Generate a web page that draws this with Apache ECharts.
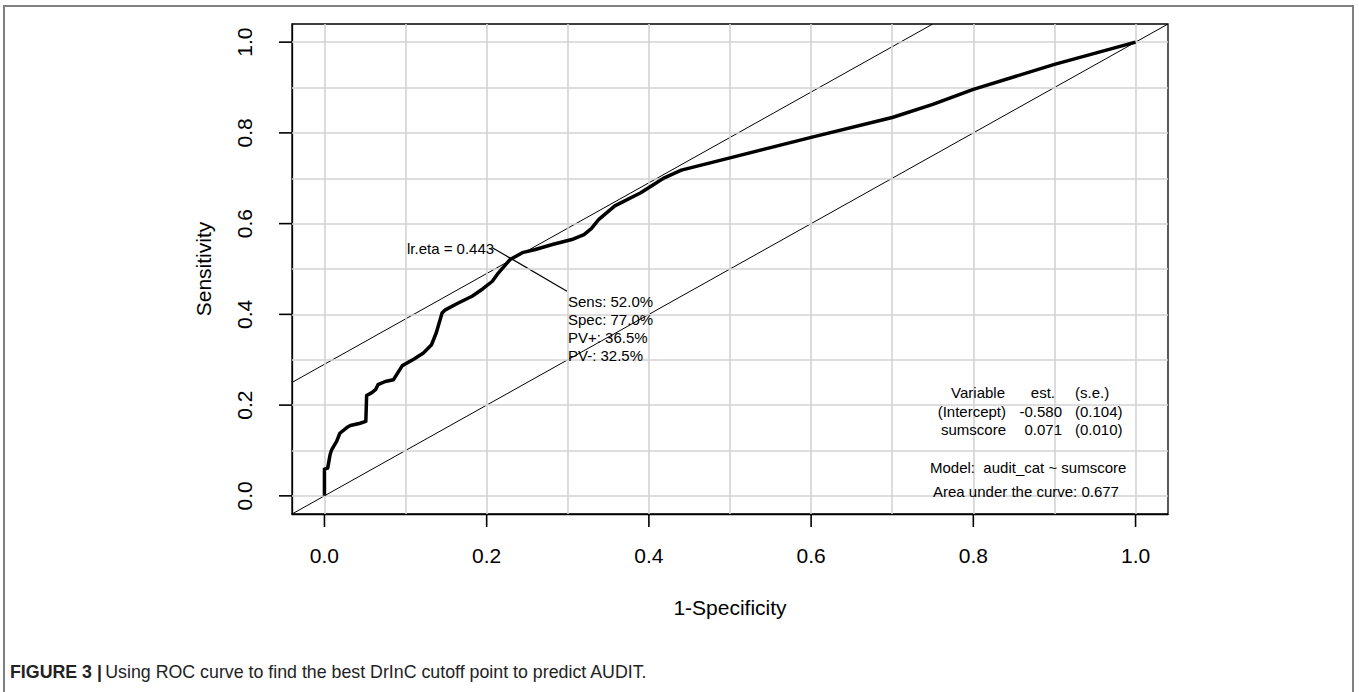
<!DOCTYPE html>
<html>
<head>
<meta charset="utf-8">
<script src="https://cdn.jsdelivr.net/npm/echarts@6.0.0/dist/echarts.min.js"></script>
<style>
  html, body { margin: 0; padding: 0; background: #fff; }
  #chart { width: 1359px; height: 692px; }
</style>
</head>
<body>
<div id="chart"></div>
<script>
// ROC curve points (1-Specificity, Sensitivity)
var rocFpr = [0, 0.000, 0.004, 0.007, 0.009, 0.015, 0.019, 0.028, 0.032, 0.044, 0.051, 0.052, 0.058, 0.063, 0.066,
  0.075, 0.085, 0.090, 0.096, 0.110, 0.122, 0.132, 0.138, 0.145, 0.149, 0.165, 0.182, 0.195, 0.207, 0.213, 0.229,
  0.244, 0.260, 0.281, 0.305, 0.320, 0.329, 0.338, 0.358, 0.390, 0.419, 0.440, 0.500, 0.600, 0.700, 0.750, 0.800,
  0.900, 1.000];
var rocSens = [0, 0.059, 0.061, 0.091, 0.102, 0.120, 0.138, 0.151, 0.155, 0.160, 0.164, 0.221, 0.227, 0.234, 0.245,
  0.252, 0.256, 0.270, 0.287, 0.301, 0.315, 0.333, 0.360, 0.403, 0.410, 0.425, 0.440, 0.456, 0.473, 0.488, 0.521,
  0.536, 0.543, 0.554, 0.565, 0.576, 0.589, 0.609, 0.639, 0.668, 0.701, 0.718, 0.745, 0.790, 0.834, 0.863, 0.896,
  0.951, 1.000];

// reference lines (end points on the plot edges)
var diagX = [-0.04, 1.04];
var diagY = [-0.04, 1.04];
var youdenX = [-0.04, 0.75];
var youdenY = [0.25, 1.04];
// pointer from the cutoff label to the stats text
var pointerX = [0.207, 0.299];
var pointerY = [0.547, 0.451];

var axisMin = -0.04;
var axisMax = 1.04;
var tickValues = [0, 0.2, 0.4, 0.6, 0.8, 1.0];
var gridValues = [0, 0.1, 0.2, 0.3, 0.4, 0.5, 0.6, 0.7, 0.8, 0.9, 1.0];

var cutoffLabel = 'lr.eta = 0.443';
var statsLines = ['Sens: 52.0%', 'Spec: 77.0%', 'PV+: 36.5%', 'PV-: 32.5%'];
var tableHead = ['Variable', 'est.', '(s.e.)'];
var tableRows = [
  ['(Intercept)', '-0.580', '(0.104)'],
  ['sumscore', '0.071', '(0.010)']
];
var modelText = 'Model:  audit_cat ~ sumscore';
var aucText = 'Area under the curve: 0.677';

function pairs(xs, ys) {
  var out = [];
  for (var i = 0; i < xs.length; i++) out.push([xs[i], ys[i]]);
  return out;
}

var FONT = 'Liberation Sans, Arial, sans-serif';
var TICK_LEN = 13;
var TICK_W = 1.6;
var BOX = { left: 292, top: 24, width: 876, height: 490 };

function txt(s, x, y, align) {
  return {
    type: 'text', x: x, y: y, z: 100, silent: true,
    style: { text: s, fontFamily: FONT, fontSize: 15, fill: '#000', align: align || 'left', verticalAlign: 'middle' }
  };
}

var myChart = echarts.init(document.getElementById('chart'), null, { renderer: 'svg' });

var graphics = [
  // figure frame
  { type: 'polyline', silent: true, z: 100, shape: { points: [[4, 700], [4, 6], [1353, 6], [1353, 700]] },
    style: { stroke: '#808080', lineWidth: 2, fill: null } },
  {
    type: 'text', x: 10, y: 672, z: 100, silent: true,
    style: {
      text: '{b|FIGURE 3 |} {r|Using ROC curve to find the best DrInC cutoff point to predict AUDIT.}',
      verticalAlign: 'middle',
      rich: {
        b: { fontFamily: FONT, fontSize: 17.8, fontWeight: 'bold', fill: '#222' },
        r: { fontFamily: FONT, fontSize: 17.8, fill: '#222' }
      }
    }
  },
  txt(cutoffLabel, 407, 248)
];
for (var i = 0; i < statsLines.length; i++) graphics.push(txt(statsLines[i], 568, 301 + i * 18.3));
graphics.push(txt(tableHead[0], 1005, 392, 'right'));
graphics.push(txt(tableHead[1], 1055, 392, 'right'));
graphics.push(txt(tableHead[2], 1075, 392, 'left'));
for (var r = 0; r < tableRows.length; r++) {
  var yy = 411 + r * 18.5;
  graphics.push(txt(tableRows[r][0], 1006, yy, 'right'));
  graphics.push(txt(tableRows[r][1], 1062, yy, 'right'));
  graphics.push(txt(tableRows[r][2], 1075, yy, 'left'));
}
graphics.push(txt(modelText, 930, 467));
graphics.push(txt(aucText, 933, 491));

// outward tick marks on the box edges, drawn as thin filled bars,
// placed with the same linear mapping as the axes
var span = axisMax - axisMin;
tickValues.forEach(function (v) {
  var tx = BOX.left + (v - axisMin) / span * BOX.width;
  var ty = BOX.top + (axisMax - v) / span * BOX.height;
  var bottom = BOX.top + BOX.height;
  graphics.push({ type: 'rect', silent: true, z: 100,
    shape: { x: tx - TICK_W / 2, y: bottom, width: TICK_W, height: TICK_LEN }, style: { fill: '#000' } });
  graphics.push({ type: 'rect', silent: true, z: 100,
    shape: { x: BOX.left - TICK_LEN, y: ty - TICK_W / 2, width: TICK_LEN, height: TICK_W }, style: { fill: '#000' } });
});

var gridLine = { color: '#d3d3d3', width: 1.6, type: 'solid' };
var axisStroke = { color: '#000', width: 1.3 };

var option = {
  animation: false,
  backgroundColor: '#fff',
  grid: {
    left: BOX.left, top: BOX.top, width: BOX.width, height: BOX.height,
    show: true, borderColor: '#000', borderWidth: 1.3, backgroundColor: 'transparent'
  },
  xAxis: {
    type: 'value', min: axisMin, max: axisMax,
    name: '1-Specificity', nameLocation: 'middle', nameGap: 83,
    nameTextStyle: { fontFamily: FONT, fontSize: 21, color: '#000' },
    axisLine: { show: true, onZero: false, lineStyle: axisStroke },
    axisTick: { show: false },
    axisLabel: { customValues: tickValues, margin: 31, fontFamily: FONT, fontSize: 21, color: '#000',
      formatter: function (v) { return v.toFixed(1); } },
    splitLine: { show: false }
  },
  yAxis: {
    type: 'value', min: axisMin, max: axisMax,
    name: 'Sensitivity', nameLocation: 'middle', nameGap: 78,
    nameTextStyle: { fontFamily: FONT, fontSize: 21, color: '#000' },
    axisLine: { show: true, onZero: false, lineStyle: axisStroke },
    axisTick: { show: false },
    axisLabel: { customValues: tickValues, rotate: 90, margin: 37, fontFamily: FONT, fontSize: 21, color: '#000',
      formatter: function (v) { return v.toFixed(1); } },
    splitLine: { show: false }
  },
  graphic: graphics,
  series: [
    {
      // background grid drawn at every 0.1
      type: 'line', data: [], silent: true, z: 1,
      markLine: {
        silent: true, symbol: ['none', 'none'], label: { show: false }, lineStyle: gridLine,
        animation: false,
        data: gridValues.map(function (v) { return { xAxis: v }; })
          .concat(gridValues.map(function (v) { return { yAxis: v }; }))
      }
    },
    {
      type: 'line', data: pairs(diagX, diagY), showSymbol: false, silent: true,
      lineStyle: { color: '#000', width: 1 }
    },
    {
      type: 'line', data: pairs(youdenX, youdenY), showSymbol: false, silent: true,
      lineStyle: { color: '#000', width: 1 }
    },
    {
      type: 'line', data: pairs(pointerX, pointerY), showSymbol: false, silent: true,
      lineStyle: { color: '#000', width: 1.2 }
    },
    {
      name: 'ROC', type: 'line', data: pairs(rocFpr, rocSens), showSymbol: false, silent: true,
      lineStyle: { color: '#000', width: 3.5, join: 'round' }, z: 5
    }
  ]
};

myChart.setOption(option);
</script>
</body>
</html>
